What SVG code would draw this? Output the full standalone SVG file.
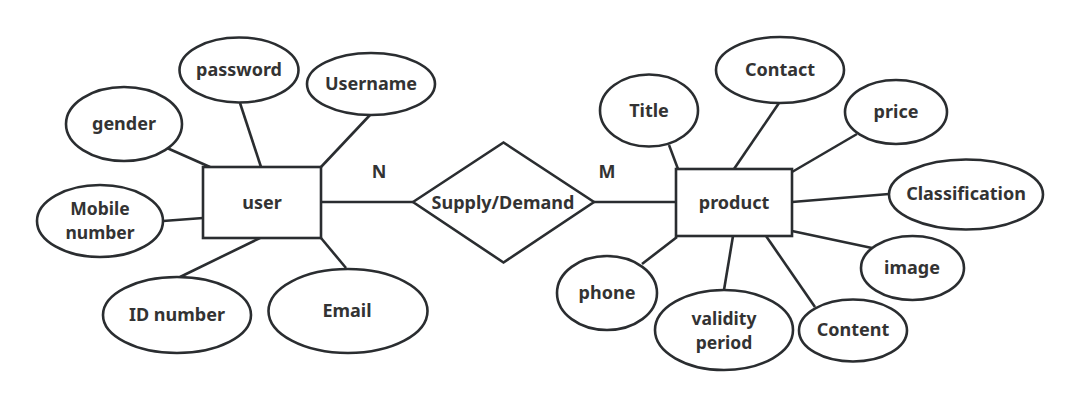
<svg xmlns="http://www.w3.org/2000/svg" width="1079" height="406" viewBox="0 0 1079 406">
<style>
.s{fill:#fff;stroke:#2a2d30;stroke-width:2.6}
.c{stroke:#2a2d30;stroke-width:2.6;fill:none}
text{font-family:"Noto Sans","Open Sans","Liberation Sans",sans-serif;font-weight:bold;font-size:18px;fill:#333;text-anchor:middle}
text.two{font-size:17.5px}
</style>
<rect width="1079" height="406" fill="#fff"/>
<g id="connectors">
<line class="c" x1="321" y1="202" x2="413" y2="202"/>
<line class="c" x1="594" y1="202" x2="676" y2="202"/>
<line class="c" x1="240" y1="103" x2="261" y2="167"/>
<line class="c" x1="370" y1="115" x2="321" y2="167"/>
<line class="c" x1="167" y1="148" x2="210" y2="167"/>
<line class="c" x1="163" y1="221" x2="203" y2="218"/>
<line class="c" x1="260" y1="238" x2="180" y2="277"/>
<line class="c" x1="321" y1="238" x2="346" y2="268"/>
<line class="c" x1="669" y1="145" x2="678" y2="169"/>
<line class="c" x1="779" y1="103" x2="734" y2="169"/>
<line class="c" x1="857" y1="134" x2="792" y2="172"/>
<line class="c" x1="792" y1="202" x2="889" y2="194"/>
<line class="c" x1="792" y1="231" x2="872" y2="248"/>
<line class="c" x1="766" y1="236" x2="815" y2="307"/>
<line class="c" x1="733" y1="236" x2="724" y2="290"/>
<line class="c" x1="677" y1="237" x2="642" y2="264"/>
</g>
<g id="label-N"><text x="379" y="178">N</text></g>
<g id="label-M"><text x="607" y="178">M</text></g>
<g id="supply-demand"><polygon class="s" points="413,202 503.5,142.5 594,202 503.5,262.5"/><text x="503" y="209">Supply/Demand</text></g>
<g id="user"><rect class="s" x="203" y="167" width="118" height="71"/><text x="262" y="209">user</text></g>
<g id="product"><rect class="s" x="676" y="169" width="116" height="67"/><text x="734" y="209">product</text></g>
<g id="password"><ellipse class="s" cx="239" cy="70" rx="59.5" ry="32.5"/><text x="239" y="76">password</text></g>
<g id="username"><ellipse class="s" cx="371" cy="84" rx="64" ry="31"/><text x="371" y="90">Username</text></g>
<g id="gender"><ellipse class="s" cx="124" cy="124" rx="58" ry="37"/><text x="124" y="130">gender</text></g>
<g id="mobile-number"><ellipse class="s" cx="100" cy="221" rx="63" ry="36"/><text class="two" x="100" y="215">Mobile</text><text class="two" x="100" y="239">number</text></g>
<g id="id-number"><ellipse class="s" cx="177" cy="315" rx="74" ry="38"/><text x="177" y="321">ID number</text></g>
<g id="email"><ellipse class="s" cx="348" cy="311" rx="79.5" ry="42"/><text x="347" y="317">Email</text></g>
<g id="title"><ellipse class="s" cx="649" cy="110.5" rx="49" ry="36"/><text x="649" y="117">Title</text></g>
<g id="contact"><ellipse class="s" cx="780" cy="70" rx="64" ry="33"/><text x="780" y="76">Contact</text></g>
<g id="price"><ellipse class="s" cx="896" cy="112" rx="51" ry="32"/><text x="896" y="118">price</text></g>
<g id="classification"><ellipse class="s" cx="966" cy="194.5" rx="77" ry="35"/><text x="966" y="200">Classification</text></g>
<g id="image"><ellipse class="s" cx="912.5" cy="268" rx="51.5" ry="32"/><text x="912" y="274">image</text></g>
<g id="phone"><ellipse class="s" cx="607" cy="293" rx="50" ry="37"/><text x="607" y="299">phone</text></g>
<g id="validity-period"><ellipse class="s" cx="724" cy="330" rx="69" ry="40"/><text class="two" x="724" y="325">validity</text><text class="two" x="724" y="349">period</text></g>
<g id="content"><ellipse class="s" cx="853" cy="330.5" rx="54" ry="31"/><text x="853" y="336">Content</text></g>
</svg>
